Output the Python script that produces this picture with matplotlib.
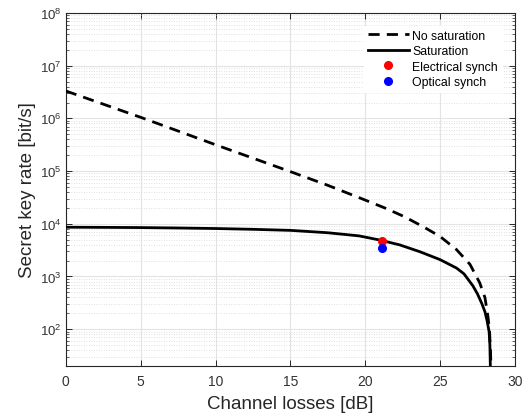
import matplotlib
matplotlib.use("Agg")
import matplotlib.pyplot as plt
from matplotlib.ticker import LogLocator, FixedLocator, NullFormatter

plt.rcParams['font.family'] = ['Liberation Sans', 'DejaVu Sans']
plt.rcParams['mathtext.fontset'] = 'custom'
plt.rcParams['mathtext.rm'] = 'Liberation Sans'
plt.rcParams['mathtext.it'] = 'Liberation Sans'
plt.rcParams['mathtext.default'] = 'regular'

# Data (x: channel losses dB, y: log10 of key rate)
nosat_x = [0, 5, 10, 15, 17.5, 20, 21.4, 22.65, 23.9, 25.0, 26.1, 27.0, 27.65, 28.0, 28.2, 28.3, 28.37, 28.4]
nosat_log = [6.52, 6.02, 5.50, 4.99, 4.73, 4.45, 4.29, 4.13, 3.94, 3.76, 3.51, 3.23, 2.88, 2.60, 2.24, 2.00, 1.6, 1.3]

sat_x = [0, 2.5, 5, 7.5, 10, 12.5, 15, 17.5, 19.6, 21.0, 22.3, 23.65, 25.0, 26.1, 26.6, 27.2, 27.5, 27.8, 28.0, 28.15, 28.28, 28.33, 28.36]
sat_log = [3.935, 3.932, 3.928, 3.92, 3.91, 3.895, 3.875, 3.83, 3.77, 3.69, 3.60, 3.47, 3.32, 3.16, 3.05, 2.82, 2.67, 2.48, 2.33, 2.15, 1.95, 1.7, 1.3]

elec_x, elec_y = [21.1], [4.7e3]
opt_x, opt_y = [21.1], [3.4e3]

xticks = [0, 5, 10, 15, 20, 25, 30]
labels = ["No saturation", "Saturation", "Electrical synch", "Optical synch"]

nosat_y = [10 ** v for v in nosat_log]
sat_y = [10 ** v for v in sat_log]

fig = plt.figure(figsize=(5.27, 4.14), dpi=100)
ax = fig.add_axes([0.125, 0.1135, 0.852, 0.8527])

ax.set_yscale('log')
ax.set_xlim(0, 30)
ax.set_ylim(20, 1e8)

ax.plot(nosat_x, nosat_y, color='black', lw=2, dashes=(4.0, 2.6), label=labels[0], zorder=3)
ax.plot(sat_x, sat_y, color='black', lw=2, label=labels[1], zorder=3, solid_joinstyle='round')
ax.plot(elec_x, elec_y, 'o', color='#ff0000', ms=5.5, label=labels[2], zorder=4)
ax.plot(opt_x, opt_y, 'o', color='#0000ff', ms=5.5, label=labels[3], zorder=4)

ax.xaxis.set_major_locator(FixedLocator(xticks))
ax.yaxis.set_major_locator(LogLocator(base=10, numticks=20))
ax.yaxis.set_minor_locator(LogLocator(base=10, subs=range(2, 10), numticks=20))
ax.yaxis.set_minor_formatter(NullFormatter())

ax.grid(True, which='major', color='#e3e3e3', lw=0.8, zorder=0)
ax.grid(True, which='minor', axis='y', color='#d6d6d6', lw=0.6, linestyle=(0, (1, 2)), zorder=0)
ax.set_axisbelow(True)

tc = '#262626'
for s in ax.spines.values():
    s.set_color(tc)
    s.set_linewidth(0.8)
ax.tick_params(which='both', direction='in', top=True, right=True, colors=tc)
ax.tick_params(which='major', length=4, width=0.7)
ax.tick_params(which='minor', length=2, width=0.5)
ax.tick_params(axis='x', labelsize=10, pad=6)
ax.tick_params(axis='y', labelsize=9.5, pad=3)
for t in ax.get_xticklabels() + ax.get_yticklabels():
    t.set_color('#333333')

ax.set_xlabel("Channel losses [dB]", fontsize=13.5, color='#262626', labelpad=4.5)
ax.set_ylabel("Secret key rate [bit/s]", fontsize=13.5, color='#262626', labelpad=3)

leg = ax.legend(loc='upper left', bbox_to_anchor=(0.664, 0.963), frameon=True,
                fontsize=8.8, handlelength=3.4, handletextpad=0.25,
                labelspacing=0.28, borderpad=0.3, borderaxespad=0, fancybox=False)
leg.get_frame().set_edgecolor('white')
leg.get_frame().set_facecolor('white')
leg.get_frame().set_alpha(1)

fig.savefig("out.png", dpi=100)
